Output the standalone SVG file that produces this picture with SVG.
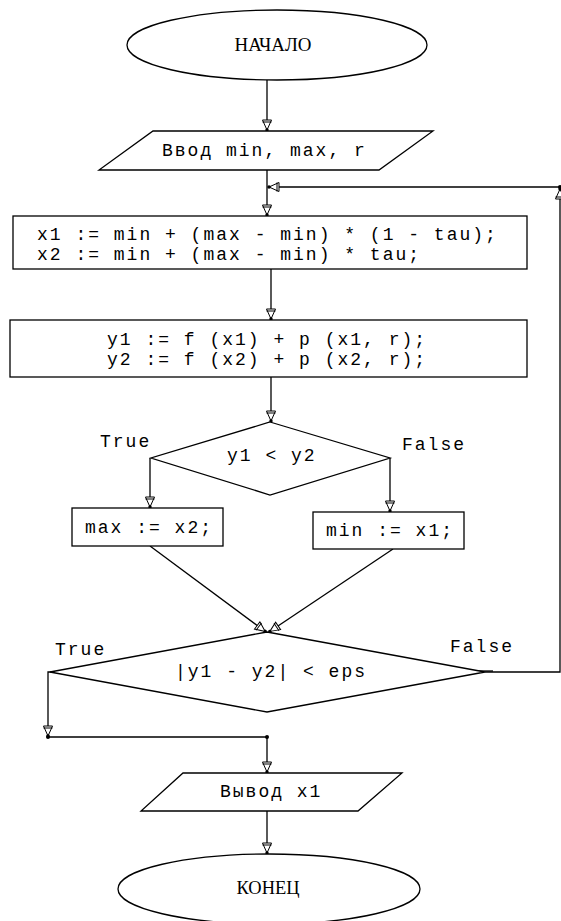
<svg xmlns="http://www.w3.org/2000/svg" width="561" height="921" viewBox="0 0 561 921">
<style>
  .shape { fill: #ffffff; stroke: #000000; stroke-width: 1.3; }
  .conn { fill: none; stroke: #000000; stroke-width: 1.3; }
  .mono { font-family: "Liberation Mono", "DejaVu Sans Mono", monospace; font-size: 18px; letter-spacing: 2px; fill: #000000; }
  .serif { font-family: "Liberation Serif", "DejaVu Serif", serif; font-size: 19px; fill: #000000; text-anchor: middle; }
  .dot { fill: #000000; }
</style>
<defs>
  <marker id="arr" markerUnits="userSpaceOnUse" viewBox="-13 -6 14 12" refX="0" refY="0" markerWidth="14" markerHeight="12" orient="auto">
    <path d="M-11,-4.5 L-1,0 L-11,4.5 Z" fill="#ffffff" stroke="#000000" stroke-width="1"/>
    <path d="M-9,-4.5 V4.5" stroke="#000000" stroke-width="1"/>
    <circle cx="-1" cy="0" r="1.7" fill="#000000"/>
  </marker>
</defs>
<rect width="561" height="921" fill="#ffffff"/>

<g id="connectors">
  <path class="conn" d="M267,80 V131" marker-end="url(#arr)"/>
  <path class="conn" d="M267,170 V216" marker-end="url(#arr)"/>
  <path class="conn" d="M485,672 H560 V188" marker-end="url(#arr)"/>
  <path class="conn" d="M560,187 H268" marker-end="url(#arr)"/>
  <circle class="dot" cx="560" cy="187" r="2"/>
  <path class="conn" d="M271,269 V320" marker-end="url(#arr)"/>
  <path class="conn" d="M271,377 V422" marker-end="url(#arr)"/>
  <path class="conn" d="M150,458 V508" marker-end="url(#arr)"/>
  <path class="conn" d="M390,458 V512" marker-end="url(#arr)"/>
  <path class="conn" d="M150,546 L266,632" marker-end="url(#arr)"/>
  <path class="conn" d="M393,549 L269,632" marker-end="url(#arr)"/>
  <path class="conn" d="M60,672 H48 V737" marker-end="url(#arr)"/>
  <path class="conn" d="M48,737 H267 V773" marker-end="url(#arr)"/>
  <circle class="dot" cx="48" cy="737" r="2"/>
  <circle class="dot" cx="267" cy="737" r="2"/>
  <path class="conn" d="M267,811 V854" marker-end="url(#arr)"/>
  <path class="conn" d="M478,671 H493" stroke-width="1"/>
</g>

<g id="start">
  <ellipse class="shape" cx="277" cy="45" rx="150" ry="35"/>
  <text class="serif" x="273" y="51" textLength="77" lengthAdjust="spacingAndGlyphs">НАЧАЛО</text>
</g>

<g id="input">
  <polygon class="shape" points="153,131 433,131 379,170 99,170"/>
  <text class="mono" x="162" y="156">Ввод min, max, r</text>
</g>

<g id="calc-x">
  <rect class="shape" x="13" y="216" width="514" height="53"/>
  <text class="mono" x="37" y="240">x1 := min + (max - min) * (1 - tau);</text>
  <text class="mono" x="37" y="260">x2 := min + (max - min) * tau;</text>
</g>

<g id="calc-y">
  <rect class="shape" x="10" y="320" width="517" height="57"/>
  <text class="mono" x="107" y="345">y1 := f (x1) + p (x1, r);</text>
  <text class="mono" x="107" y="365">y2 := f (x2) + p (x2, r);</text>
</g>

<g id="cond1">
  <polygon class="shape" points="270,422 390,458 270,495 151,458"/>
  <text class="mono" x="227" y="461">y1 &lt; y2</text>
  <text class="mono" x="100" y="447">True</text>
  <text class="mono" x="402" y="450">False</text>
</g>

<g id="set-max">
  <rect class="shape" x="72" y="508" width="151" height="38"/>
  <text class="mono" x="85" y="533">max := x2;</text>
</g>

<g id="set-min">
  <rect class="shape" x="313" y="512" width="151" height="37"/>
  <text class="mono" x="326" y="536">min := x1;</text>
</g>

<g id="cond2">
  <polygon class="shape" points="267,632 485,672 267,712 50,672"/>
  <text class="mono" x="175" y="677">|y1 - y2| &lt; eps</text>
  <text class="mono" x="55" y="655">True</text>
  <text class="mono" x="450" y="652">False</text>
</g>

<g id="output">
  <polygon class="shape" points="183,773 402,773 358,811 141,811"/>
  <text class="mono" x="220" y="797">Вывод x1</text>
</g>

<g id="end">
  <ellipse class="shape" cx="269" cy="889" rx="151" ry="35"/>
  <text class="serif" x="268" y="894" textLength="63" lengthAdjust="spacingAndGlyphs">КОНЕЦ</text>
</g>
</svg>
